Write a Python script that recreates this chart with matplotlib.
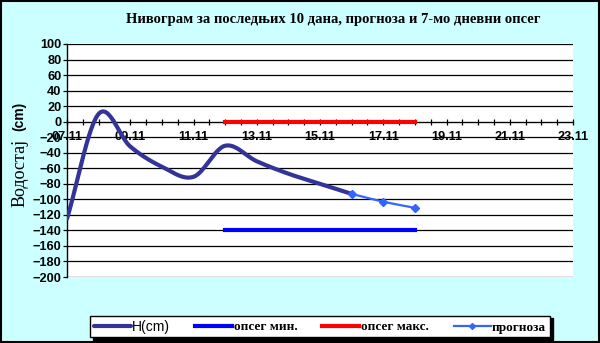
import numpy as np
import matplotlib
matplotlib.use("Agg")
import matplotlib.pyplot as plt
from matplotlib.patches import Rectangle

# ---- data ----
h_days = [7, 8, 9, 10, 11, 12, 13, 14, 15, 16]
h_vals = [-125, 10, -32, -58, -71, -31, -51, -67, -80, -93]
fc_days = [16, 17, 18]
fc_vals = [-93, -103, -111]
rng_days = [12, 18]
rng_min = [-140, -140]
rng_max = [0, 0]
xtick_days = [7, 9, 11, 13, 15, 17, 19, 21, 23]
xtick_labels = ['07.11', '09.11', '11.11', '13.11', '15.11', '17.11', '19.11', '21.11', '23.11']
title = "Нивограм за последњих 10 дана, прогноза и 7-мо дневни опсег"
series_names = ['H(cm)', 'опсег мин.', 'опсег макс.', 'прогноза']


def smooth(xs, ys, n=30):
    xs = np.asarray(xs, float); ys = np.asarray(ys, float)
    k = len(xs)
    mx = np.zeros(k); my = np.zeros(k)
    for i in range(k):
        a = max(i - 1, 0); b = min(i + 1, k - 1)
        mx[i] = (xs[b] - xs[a]) / (b - a) if b > a else 0
        my[i] = (ys[b] - ys[a]) / (b - a) if b > a else 0
    ox, oy = [], []
    t = np.linspace(0, 1, n)
    h00 = 2*t**3 - 3*t**2 + 1; h10 = t**3 - 2*t**2 + t
    h01 = -2*t**3 + 3*t**2; h11 = t**3 - t**2
    for i in range(k - 1):
        ox.extend(h00*xs[i] + h10*mx[i] + h01*xs[i+1] + h11*mx[i+1])
        oy.extend(h00*ys[i] + h10*my[i] + h01*ys[i+1] + h11*my[i+1])
    return np.array(ox), np.array(oy)


fig = plt.figure(figsize=(6, 3.43), dpi=100, facecolor='#CCFFFF')
fig.patches.append(Rectangle((0.001, 0.002), 0.997, 0.995, transform=fig.transFigure,
                             fill=False, edgecolor='black', linewidth=1.5))
ax = fig.add_axes([67/600, 1-277/343, (573-67)/600, (277-44)/343])
ax.set_facecolor('white')
ax.set_xlim(7, 23)
ax.set_ylim(-200, 100)

sx, sy = smooth(h_days, h_vals)
l1, = ax.plot(sx, sy, color='#333399', lw=3, solid_capstyle='round', zorder=4)
l2, = ax.plot(rng_days, rng_min, color='#0000FF', lw=3, zorder=3)
l3, = ax.plot(rng_days, rng_max, color='#FF0000', lw=3, zorder=3)
fx, fy = smooth(fc_days, fc_vals)
ax.plot(fx, fy, color='#3366FF', lw=1.6, zorder=5)
ax.plot(fc_days, fc_vals, ls='none', marker='D', ms=4, color='#3366FF', zorder=5)
l4, = ax.plot([], [], color='#3366FF', lw=1.6, marker='D', ms=3)

ax.set_yticks(np.arange(-200, 101, 20))
ax.grid(axis='y', color='black', lw=0.9)
ax.set_axisbelow(True)
ax.spines['bottom'].set_position(('data', 0))
ax.spines['top'].set_visible(False)
ax.spines['right'].set_visible(False)
ax.spines['left'].set_linewidth(1)
ax.set_xticks(xtick_days)
ax.set_xticklabels(xtick_labels)
ax.set_xticks(np.arange(7, 23.01, 0.5), minor=True)
ax.tick_params(axis='x', which='both', direction='inout', length=5, pad=4.5, width=0.9)
ax.tick_params(axis='y', direction='out', length=3, pad=1, width=0.9)
for lab in ax.get_xticklabels() + ax.get_yticklabels():
    lab.set_fontfamily('Liberation Sans')
    lab.set_fontweight('bold')
    lab.set_fontsize(9.2)

fig.text(333/600, 1-20/343, title, ha='center', va='center', fontfamily='Liberation Serif',
         fontweight='bold', fontsize=10.5)
fig.text(20/600, 1-173/343, 'Водостај', rotation=90, ha='center', va='center',
         fontfamily='Liberation Serif', fontsize=13)
fig.text(19/600, 1-116/343, '(cm)', rotation=90, ha='center', va='center',
         fontfamily='Liberation Sans', fontweight='bold', fontsize=10)

leg = fig.legend([l1, l2, l3, l4], series_names, loc='center',
                 bbox_to_anchor=(90/600, 1-338/343, 460/600, 23/343), mode='expand',
                 ncol=4, frameon=True, fancybox=False, edgecolor='black',
                 shadow={'color': 'black', 'alpha': 1}, handlelength=2.8, handletextpad=0.1,
                 borderaxespad=0, borderpad=0.3,
                 prop={'family': 'Liberation Serif', 'weight': 'bold', 'size': 9.5})
leg.get_frame().set_linewidth(1)
leg.get_texts()[0].set_fontfamily('Liberation Sans')
leg.get_texts()[0].set_fontweight('normal')
leg.get_texts()[0].set_fontsize(10)

fig.savefig('out.png', dpi=100, facecolor=fig.get_facecolor())
